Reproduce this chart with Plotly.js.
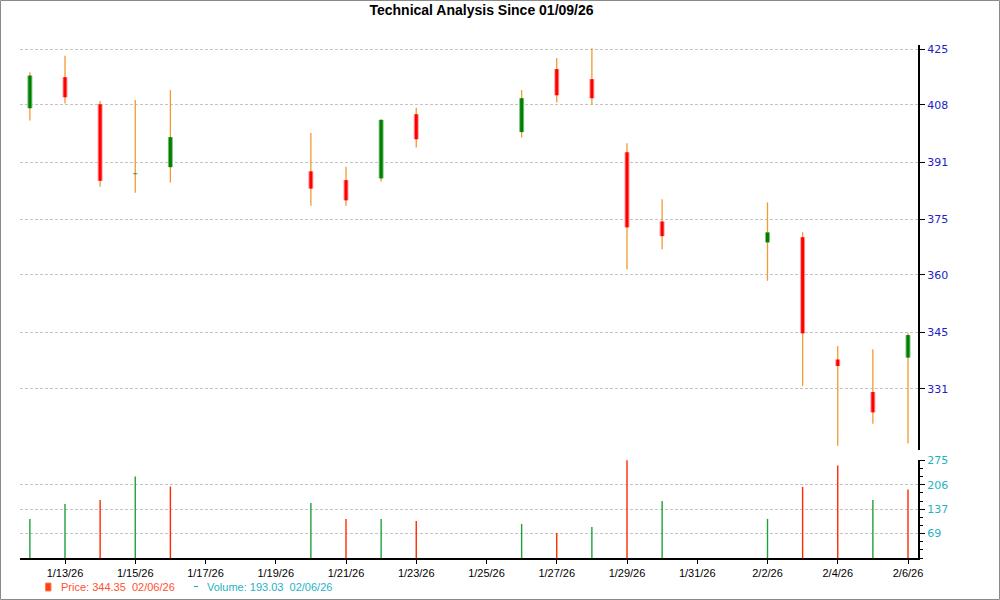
<!DOCTYPE html>
<html>
<head>
<meta charset="utf-8">
<script src="https://cdn.plot.ly/plotly-3.0.1.min.js"></script>
<style>
html,body{margin:0;padding:0;background:#fff;}
#chart{width:1000px;height:600px;}
</style>
</head>
<body>
<div id="chart"></div>
<script>
// ---- data ----
const dates = ['2026-01-12','2026-01-13','2026-01-14','2026-01-15','2026-01-16',
  '2026-01-20','2026-01-21','2026-01-22','2026-01-23',
  '2026-01-26','2026-01-27','2026-01-28','2026-01-29','2026-01-30',
  '2026-02-02','2026-02-03','2026-02-04','2026-02-05','2026-02-06'];
const openP  = [407.0,416.4,408.2,387.7,389.7,388.5,386.0,386.5,405.2,399.9,418.9,415.8,394.0,374.4,368.7,370.1,338.2,330.2,338.7];
const highP  = [417.9,423.0,409.2,409.5,412.5,399.6,389.8,403.8,407.1,412.5,422.3,425.4,396.6,380.6,379.7,371.5,341.6,340.8,344.8];
const lowP   = [403.3,408.4,384.1,382.4,385.3,378.8,378.8,385.6,395.4,398.3,408.7,408.0,361.4,366.8,358.4,331.7,317.4,322.6,317.9];
const closeP = [416.9,410.3,385.8,387.9,398.4,383.6,380.3,403.5,397.8,410.0,410.9,410.0,372.8,370.4,371.4,344.8,336.6,325.3,344.35];
const volume = [110.1,152.3,163.6,229.2,201.1,155.2,110.1,110.1,104.5,96.0,70.7,87.6,275.0,160.8,110.1,200.2,260.2,163.6,193.03];
const volUp  = [1,1,0,1,0,1,0,1,0,1,0,1,0,1,1,0,0,1,0];

const priceTickVals = [331,345,360,375,391,408,425];
const priceTickText = ['331','345','360','375','391','408','425'];
const volTickVals = [68.75,137.5,206.25,275];
const volTickText = ['69','137','206','275'];
const titleText = 'Technical Analysis Since 01/09/26';

// ---- build traces ----
const wx = [], wy = [];
const upX = [], upY = [], dnX = [], dnY = [];
const vgX = [], vgY = [], vrX = [], vrY = [];
for (let i = 0; i < dates.length; i++) {
  wx.push(dates[i], dates[i], null); wy.push(lowP[i], highP[i], null);
  if (closeP[i] >= openP[i]) { upX.push(dates[i], dates[i], null); upY.push(openP[i], closeP[i], null); }
  else { dnX.push(dates[i], dates[i], null); dnY.push(openP[i], closeP[i], null); }
  if (volUp[i]) { vgX.push(dates[i], dates[i], null); vgY.push(0, volume[i], null); }
  else { vrX.push(dates[i], dates[i], null); vrY.push(0, volume[i], null); }
}
const GREEN_VOL = '#1ea23a', RED_VOL = '#ff2a00';
const base = {type:'scatter', mode:'lines', connectgaps:false, hoverinfo:'skip'};
const traces = [
  Object.assign({x:wx, y:wy, xaxis:'x', yaxis:'y', line:{color:'#f19a30', width:1.3}}, base),
  Object.assign({x:upX, y:upY, xaxis:'x', yaxis:'y', line:{color:'#7fc07f', width:5}}, base),
  Object.assign({x:upX, y:upY, xaxis:'x', yaxis:'y', line:{color:'#008000', width:3}}, base),
  Object.assign({x:dnX, y:dnY, xaxis:'x', yaxis:'y', line:{color:'#ff9c9c', width:5}}, base),
  Object.assign({x:dnX, y:dnY, xaxis:'x', yaxis:'y', line:{color:'#ff0000', width:3}}, base),
  Object.assign({x:vgX, y:vgY, xaxis:'x', yaxis:'y2', line:{color:GREEN_VOL, width:1.4}}, base),
  Object.assign({x:vrX, y:vrY, xaxis:'x', yaxis:'y2', line:{color:RED_VOL, width:1.4}}, base)
];

// ---- geometry (pixels -> paper) ----
const L = 20, R = 82, T = 45, B = 42, W = 1000, H = 600;
const pw = W - L - R, ph = H - T - B;
const px2x = p => (p - L) / pw;
const py2y = p => (H - B - p) / ph;

const lastI = dates.length - 1;
const dParts = dates[lastI].split('-');
const lastDate = dParts[1] + '/' + dParts[2] + '/' + dParts[0].slice(2);
const PRICE_COL = '#ff5030', VOL_COL = '#1fb2c2';

const gridStyle = {gridcolor:'#c4c4c4', griddash:'3px,2px', gridwidth:1};

const layout = {
  width: W, height: H,
  margin: {l:L, r:R, t:T, b:B, pad:0},
  paper_bgcolor:'#ffffff', plot_bgcolor:'#ffffff',
  showlegend:false, hovermode:false,
  title: {text: titleText, x: 0.4815, xref:'container', xanchor:'center',
          y: 1 - 10/600, yref:'container', yanchor:'middle',
          font:{family:'Liberation Sans, Arial, sans-serif', size:14, color:'#000', weight:700}},
  xaxis: {
    type:'date', anchor:'y2', domain:[0,1],
    range:['2026-01-11 17:15', '2026-02-06 06:50'],
    tickmode:'linear', tick0:'2026-01-13', dtick:2*86400000,
    tickformat:'%-m/%-d/%y', ticks:'outside', ticklen:4, tickwidth:1, tickcolor:'#000',
    showline:true, linecolor:'#000', linewidth:2, showgrid:false, zeroline:false,
    tickfont:{family:'Liberation Sans, Arial, sans-serif', size:11, color:'#000'}
  },
  yaxis: Object.assign({
    type:'log', domain:[py2y(450), 1], anchor:'x', side:'right',
    range:[Math.log10(316.4), Math.log10(426.4)],
    tickmode:'array', tickvals:priceTickVals, ticktext:priceTickText,
    ticks:'outside', ticklen:5, tickwidth:1, tickcolor:'#000',
    showline:true, linecolor:'#000', linewidth:2, zeroline:false, showgrid:true,
    tickfont:{family:'DejaVu Sans, Verdana, sans-serif', size:11, color:'#2222c4'}
  }, gridStyle),
  yaxis2: Object.assign({
    domain:[0, py2y(460)], anchor:'x', side:'right',
    range:[0, 276],
    tickmode:'array', tickvals:volTickVals, ticktext:volTickText,
    ticks:'outside', ticklen:5, tickwidth:1, tickcolor:'#000',
    minor:{dtick:22.9167, tick0:0, ticks:'outside', ticklen:3, tickcolor:'#000', showgrid:false},
    showline:true, linecolor:'#000', linewidth:2, zeroline:false, showgrid:true,
    tickfont:{family:'DejaVu Sans, Verdana, sans-serif', size:11, color:VOL_COL}
  }, gridStyle),
  shapes: [
    {type:'rect', xref:'paper', yref:'paper', x0:px2x(0.5), x1:px2x(999.5), y0:py2y(599.5), y1:py2y(0.5),
     line:{color:'#8a8a8a', width:1}, fillcolor:'rgba(0,0,0,0)', layer:'above'},
    {type:'rect', xref:'paper', yref:'paper', x0:px2x(45.5), x1:px2x(51), y0:py2y(591), y1:py2y(583),
     line:{color:'#ff8060', width:1}, fillcolor:'#ff4010'},
    {type:'line', xref:'paper', yref:'paper', x0:px2x(194), x1:px2x(198), y0:py2y(586.5), y1:py2y(586.5),
     line:{color:VOL_COL, width:1.2}}
  ],
  annotations: [
    {xref:'paper', yref:'paper', x:px2x(59), y:py2y(587), xanchor:'left', yanchor:'middle', showarrow:false,
     text:'Price: ' + closeP[lastI].toFixed(2) + '  ' + lastDate,
     font:{family:'Liberation Sans, Arial, sans-serif', size:11, color:PRICE_COL}},
    {xref:'paper', yref:'paper', x:px2x(205), y:py2y(587), xanchor:'left', yanchor:'middle', showarrow:false,
     text:'Volume: ' + volume[lastI].toFixed(2) + '  ' + lastDate,
     font:{family:'Liberation Sans, Arial, sans-serif', size:11, color:VOL_COL}}
  ]
};

Plotly.newPlot('chart', traces, layout, {staticPlot:true, displayModeBar:false});
</script>
</body>
</html>
